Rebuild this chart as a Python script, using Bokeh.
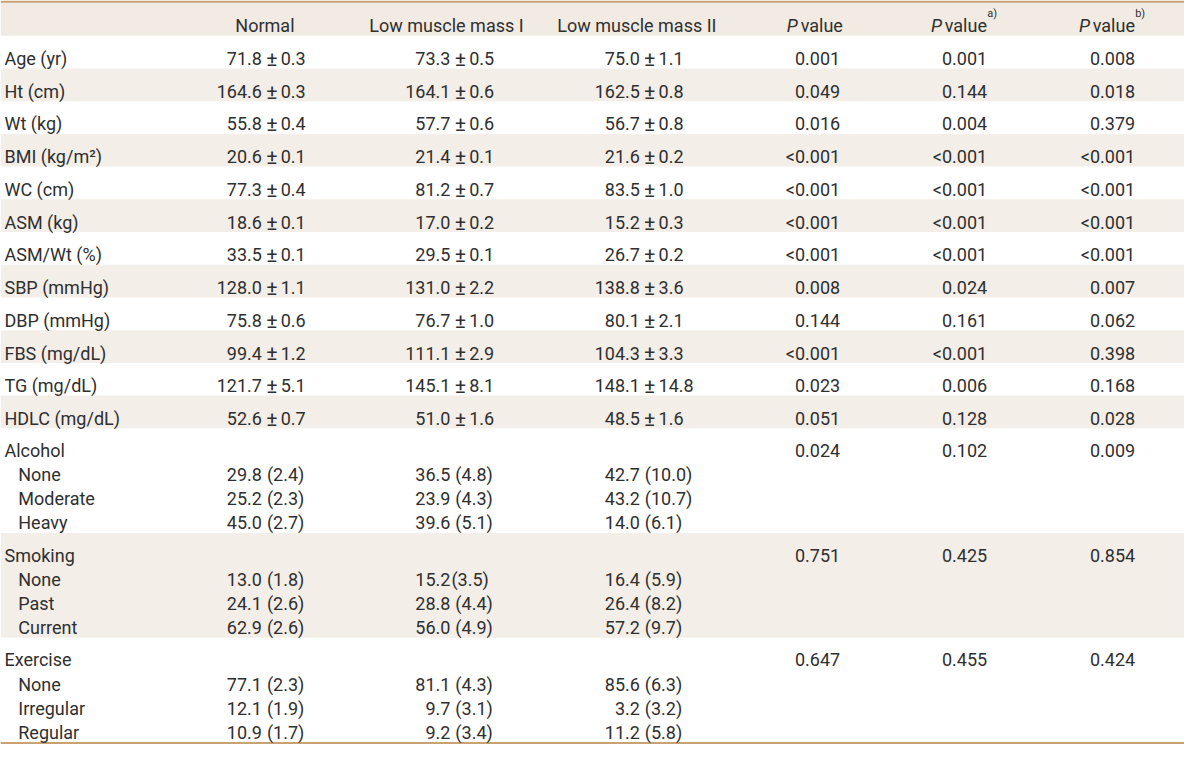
from bokeh.plotting import figure
from bokeh.models import ColumnDataSource, Range1d
from bokeh.core.properties import value
from bokeh.embed import file_html
from bokeh.resources import INLINE

# ---------------- data ----------------
group_headers = ["Normal", "Low muscle mass I", "Low muscle mass II"]

labels = ["Age (yr)", "Ht (cm)", "Wt (kg)", "BMI (kg/m\u00b2)", "WC (cm)", "ASM (kg)",
          "ASM/Wt (%)", "SBP (mmHg)", "DBP (mmHg)", "FBS (mg/dL)", "TG (mg/dL)", "HDLC (mg/dL)"]
normal = ["71.8\u00b10.3", "164.6\u00b10.3", "55.8\u00b10.4", "20.6\u00b10.1", "77.3\u00b10.4", "18.6\u00b10.1",
          "33.5\u00b10.1", "128.0\u00b11.1", "75.8\u00b10.6", "99.4\u00b11.2", "121.7\u00b15.1", "52.6\u00b10.7"]
lmm1 = ["73.3\u00b10.5", "164.1\u00b10.6", "57.7\u00b10.6", "21.4\u00b10.1", "81.2\u00b10.7", "17.0\u00b10.2",
        "29.5\u00b10.1", "131.0\u00b12.2", "76.7\u00b11.0", "111.1\u00b12.9", "145.1\u00b18.1", "51.0\u00b11.6"]
lmm2 = ["75.0\u00b11.1", "162.5\u00b10.8", "56.7\u00b10.8", "21.6\u00b10.2", "83.5\u00b11.0", "15.2\u00b10.3",
        "26.7\u00b10.2", "138.8\u00b13.6", "80.1\u00b12.1", "104.3\u00b13.3", "148.1\u00b114.8", "48.5\u00b11.6"]
p_val = ["0.001", "0.049", "0.016", "<0.001", "<0.001", "<0.001", "<0.001", "0.008", "0.144", "<0.001", "0.023", "0.051"]
p_val_a = ["0.001", "0.144", "0.004", "<0.001", "<0.001", "<0.001", "<0.001", "0.024", "0.161", "<0.001", "0.006", "0.128"]
p_val_b = ["0.008", "0.018", "0.379", "<0.001", "<0.001", "<0.001", "<0.001", "0.007", "0.062", "0.398", "0.168", "0.028"]

cat_names = ["Alcohol", "Smoking", "Exercise"]
cat_levels = [["None", "Moderate", "Heavy"], ["None", "Past", "Current"], ["None", "Irregular", "Regular"]]
normal_cat = [["29.8 (2.4)", "25.2 (2.3)", "45.0 (2.7)"],
              ["13.0 (1.8)", "24.1 (2.6)", "62.9 (2.6)"],
              ["77.1 (2.3)", "12.1 (1.9)", "10.9 (1.7)"]]
lmm1_cat = [["36.5 (4.8)", "23.9 (4.3)", "39.6 (5.1)"],
            ["15.2(3.5)", "28.8 (4.4)", "56.0 (4.9)"],
            ["81.1 (4.3)", "9.7 (3.1)", "9.2 (3.4)"]]
lmm2_cat = [["42.7 (10.0)", "43.2 (10.7)", "14.0 (6.1)"],
            ["16.4 (5.9)", "26.4 (8.2)", "57.2 (9.7)"],
            ["85.6 (6.3)", "3.2 (3.2)", "11.2 (5.8)"]]
p_cat = ["0.024", "0.751", "0.647"]
p_cat_a = ["0.102", "0.425", "0.455"]
p_cat_b = ["0.009", "0.854", "0.424"]

# ---------------- style / layout ----------------
FONT = "Roboto"
FS = "18px"
TEXT = "#2f2f2f"
BAND = "#f3eee8"
HEAD = "#f2ebe3"
RULE = "#c9a274"
W, H = 1200, 760
ROW_H = 33.42
BLOCK_H = 107.0
TOP = 36.0
CAP = 6.6  # half cap height in data units

p = figure(width=1184, height=744, x_range=Range1d(0, W), y_range=Range1d(H, 0),
           output_backend="svg", toolbar_location=None, min_border=0)
p.axis.visible = False
p.grid.visible = False
p.outline_line_color = None
p.background_fill_color = "white"
p.border_fill_color = "white"


def txt(xs, ys, texts, align="left", size=FS, style="normal"):
    src = ColumnDataSource(dict(x=list(xs), y=list(ys), t=list(texts)))
    p.text("x", "y", "t", source=src, text_font=value(FONT), text_font_size=size,
           text_align=align, text_baseline="alphabetic", text_color=TEXT,
           text_font_style=style)


# bands
n = len(labels)
row_tops = [TOP + i * ROW_H for i in range(n)]
block_tops = [TOP + n * ROW_H + j * BLOCK_H for j in range(len(cat_names))]
band_t, band_b = [2.0], [TOP]
band_c = [HEAD]
for i, t in enumerate(row_tops):
    if i % 2 == 1:
        band_t.append(t); band_b.append(t + ROW_H); band_c.append(BAND)
for j, t in enumerate(block_tops):
    if (n + j) % 2 == 1:
        band_t.append(t); band_b.append(t + BLOCK_H); band_c.append(BAND)
p.quad(left=0, right=W, top=band_t, bottom=band_b, fill_color=band_c, line_color=None)
# rules
p.quad(left=0, right=W, top=[0, 757.5], bottom=[2.2, 760], fill_color=RULE, line_color=None)

# header
hy = 19 + CAP
txt([268, 452, 645], [hy] * 3, group_headers, align="center")
p_starts = [797, 943, 1093]
txt(p_starts, [hy] * 3, ["P"] * 3, style="italic")
txt([x + 14 for x in p_starts], [hy] * 3, ["value"] * 3)
txt([x + 57 for x in p_starts[1:]], [13, 13], ["a)", "b)"], size="11px")

# row centers
row_cy = [t + ROW_H / 2 for t in row_tops]
txt([4] * n, [y + CAP for y in row_cy], labels)

num_anchor = [265, 456, 648]
for anchor, col in zip(num_anchor, [normal, lmm1, lmm2]):
    a = [s.split("\u00b1")[0] for s in col]
    b = [s.split("\u00b1")[1] for s in col]
    ys = [y + CAP for y in row_cy]
    txt([anchor] * n, ys, a, align="right")
    txt([anchor + 10] * n, [y + 0.5 for y in ys], ["\u00b1"] * n, align="center", size="21px")
    txt([anchor + 19] * n, ys, b, align="left")

p_right = [851, 1000, 1150]
for r, col in zip(p_right, [p_val, p_val_a, p_val_b]):
    txt([r] * n, [y + CAP for y in row_cy], col, align="right")

# categorical blocks
line_off = [16, 41, 65.5, 90]
for j, t in enumerate(block_tops):
    txt([4], [t + line_off[0] + CAP], [cat_names[j]])
    ys = [t + o + CAP for o in line_off[1:]]
    txt([18] * 3, ys, cat_levels[j])
    for anchor, col in zip(num_anchor, [normal_cat, lmm1_cat, lmm2_cat]):
        vals = col[j]
        a, b, bx = [], [], []
        for s in vals:
            k = s.index("(")
            a.append(s[:k].rstrip())
            b.append(s[k:])
            bx.append(anchor + (5 if s[k - 1] == " " else 1))
        txt([anchor] * 3, ys, a, align="right")
        txt(bx, ys, b, align="left")
    for r, col in zip(p_right, [p_cat, p_cat_a, p_cat_b]):
        txt([r], [t + line_off[0] + CAP], [col[j]], align="right")

open("out.html", "w").write(file_html(p, INLINE))
